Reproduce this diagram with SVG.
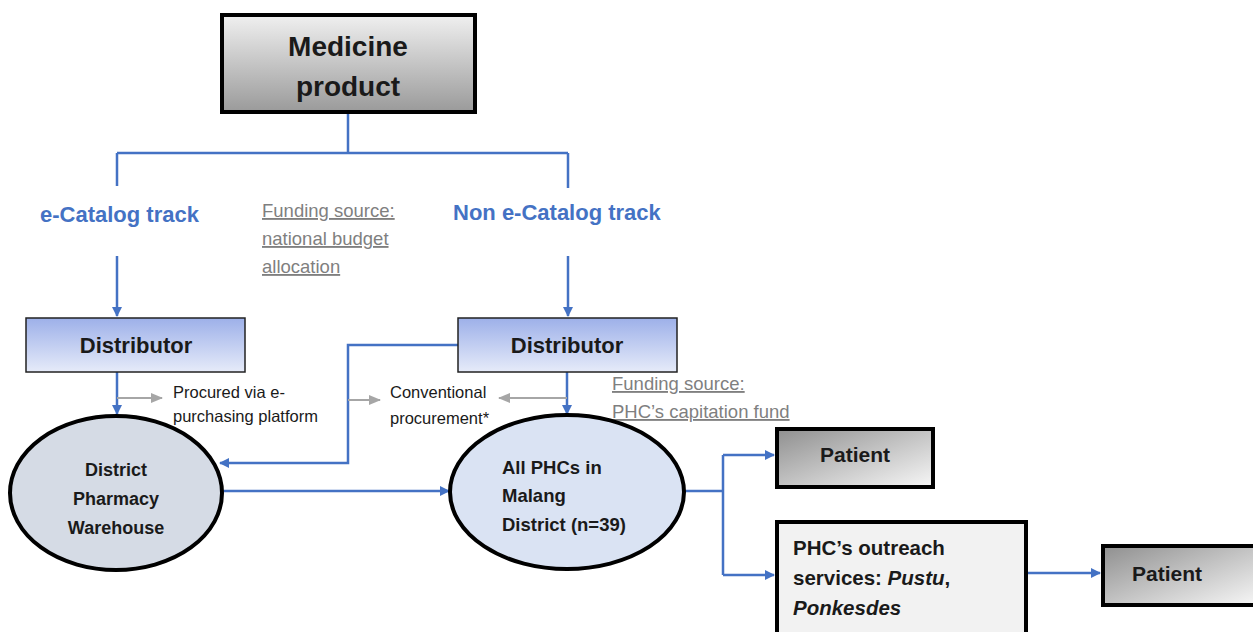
<svg xmlns="http://www.w3.org/2000/svg" width="1253" height="632" viewBox="0 0 1253 632">
<defs>
<linearGradient id="gMed" x1="0" y1="0" x2="0" y2="1"><stop offset="0" stop-color="#f0f0f0"/><stop offset="1" stop-color="#9a9a9a"/></linearGradient>
<linearGradient id="gDist" x1="0" y1="0" x2="0" y2="1"><stop offset="0" stop-color="#9db0e9"/><stop offset="1" stop-color="#e6ebf9"/></linearGradient>
<linearGradient id="gPat" x1="0" y1="0" x2="1" y2="1"><stop offset="0" stop-color="#8f8f8f"/><stop offset="1" stop-color="#f7f7f7"/></linearGradient>
<marker id="ab" markerWidth="10" markerHeight="10" refX="9" refY="5" orient="auto" markerUnits="userSpaceOnUse"><path d="M0,0 L10,5 L0,10 z" fill="#4472c4"/></marker>
<marker id="ag" markerWidth="12" markerHeight="10" refX="11" refY="5" orient="auto" markerUnits="userSpaceOnUse"><path d="M0,0 L12,5 L0,10 z" fill="#a6a6a6"/></marker>
</defs>
<style>
.t{font-family:"Liberation Sans",Arial,sans-serif;font-weight:bold;fill:#1a1a1a}
.blue{font-family:"Liberation Sans",Arial,sans-serif;font-weight:bold;fill:#4472c4;font-size:22px}
.fund{font-family:"Liberation Sans",Arial,sans-serif;fill:#7f7f7f;font-size:18.5px;text-decoration:underline}
.small{font-family:"Liberation Sans",Arial,sans-serif;fill:#1a1a1a;font-size:16.5px}
.cb{fill:none;stroke:#4472c4;stroke-width:2.5}
.cg{fill:none;stroke:#a6a6a6;stroke-width:2}
.thick{stroke:#000;stroke-width:4}
</style>
<rect width="1253" height="632" fill="#fff"/>
<g id="connectors">
<path class="cb" d="M348,112 V153 M117,153 H568 M117,153 V186 M568,153 V188"/>
<path class="cb" d="M117,256 V316" marker-end="url(#ab)"/>
<path class="cb" d="M568,256 V316" marker-end="url(#ab)"/>
<path class="cb" d="M117,372 V414" marker-end="url(#ab)"/>
<path class="cb" d="M567,372 V414" marker-end="url(#ab)"/>
<path class="cb" d="M458,345 H348 V463 H220" marker-end="url(#ab)"/>
<path class="cb" d="M223,491 H449" marker-end="url(#ab)"/>
<path class="cb" d="M685,491 H723 M723,455 V575"/>
<path class="cb" d="M723,455 H774" marker-end="url(#ab)"/>
<path class="cb" d="M723,575 H774" marker-end="url(#ab)"/>
<path class="cb" d="M1027,573 H1100" marker-end="url(#ab)"/>
<path class="cg" d="M117,398 H162" marker-end="url(#ag)"/>
<path class="cg" d="M348,400 H380" marker-end="url(#ag)"/>
<path class="cg" d="M567,398 H499" marker-end="url(#ag)"/>
</g>
<g id="medicine">
<rect x="222" y="15" width="253" height="97" fill="url(#gMed)" class="thick"/>
<text class="t" x="348" y="56" font-size="28" text-anchor="middle">Medicine</text>
<text class="t" x="348" y="96" font-size="28" text-anchor="middle">product</text>
</g>
<g id="ecat-label"><text class="blue" x="40" y="222">e-Catalog track</text></g>
<g id="nonecat-label"><text class="blue" x="453" y="220">Non e-Catalog track</text></g>
<g id="funding1">
<text class="fund" x="262" y="217">Funding source:</text>
<text class="fund" x="262" y="245">national budget</text>
<text class="fund" x="262" y="273">allocation</text>
</g>
<g id="dist-left">
<rect x="26" y="318" width="219" height="54" fill="url(#gDist)" stroke="#222" stroke-width="1.5"/>
<text class="t" x="136" y="353" font-size="22" text-anchor="middle">Distributor</text>
</g>
<g id="dist-right">
<rect x="458" y="318" width="219" height="54" fill="url(#gDist)" stroke="#222" stroke-width="1.5"/>
<text class="t" x="567" y="353" font-size="22" text-anchor="middle">Distributor</text>
</g>
<g id="procured"><text class="small" x="173" y="398">Procured via e-</text><text class="small" x="173" y="422">purchasing platform</text></g>
<g id="conventional"><text class="small" x="390" y="398">Conventional</text><text class="small" x="390" y="424">procurement*</text></g>
<g id="funding2">
<text class="fund" x="612" y="390">Funding source:</text>
<text class="fund" x="612" y="418">PHC’s capitation fund</text>
</g>
<g id="warehouse">
<ellipse cx="116" cy="493" rx="106" ry="77" fill="#d5dbe5" class="thick"/>
<text class="t" x="116" y="476" font-size="18" text-anchor="middle">District</text>
<text class="t" x="116" y="505" font-size="18" text-anchor="middle">Pharmacy</text>
<text class="t" x="116" y="534" font-size="18" text-anchor="middle">Warehouse</text>
</g>
<g id="phcs">
<ellipse cx="567" cy="492" rx="117" ry="77" fill="#dae3f3" class="thick"/>
<text class="t" x="502" y="474" font-size="18.5">All PHCs in</text>
<text class="t" x="502" y="502" font-size="18.5">Malang</text>
<text class="t" x="502" y="531" font-size="18.5">District (n=39)</text>
</g>
<g id="patient1">
<rect x="777" y="429" width="156" height="58" fill="url(#gPat)" class="thick"/>
<text class="t" x="855" y="462" font-size="21" text-anchor="middle">Patient</text>
</g>
<g id="outreach">
<rect x="777" y="522" width="249" height="114" fill="#f2f2f2" class="thick"/>
<text class="t" x="793" y="555" font-size="20.5">PHC’s outreach</text>
<text class="t" x="793" y="585" font-size="20.5">services: <tspan font-style="italic">Pustu</tspan>,</text>
<text class="t" x="793" y="615" font-size="20.5" font-style="italic">Ponkesdes</text>
</g>
<g id="patient2">
<rect x="1103" y="546" width="154" height="59" fill="url(#gPat)" class="thick"/>
<text class="t" x="1167" y="581" font-size="21" text-anchor="middle">Patient</text>
</g>
</svg>
